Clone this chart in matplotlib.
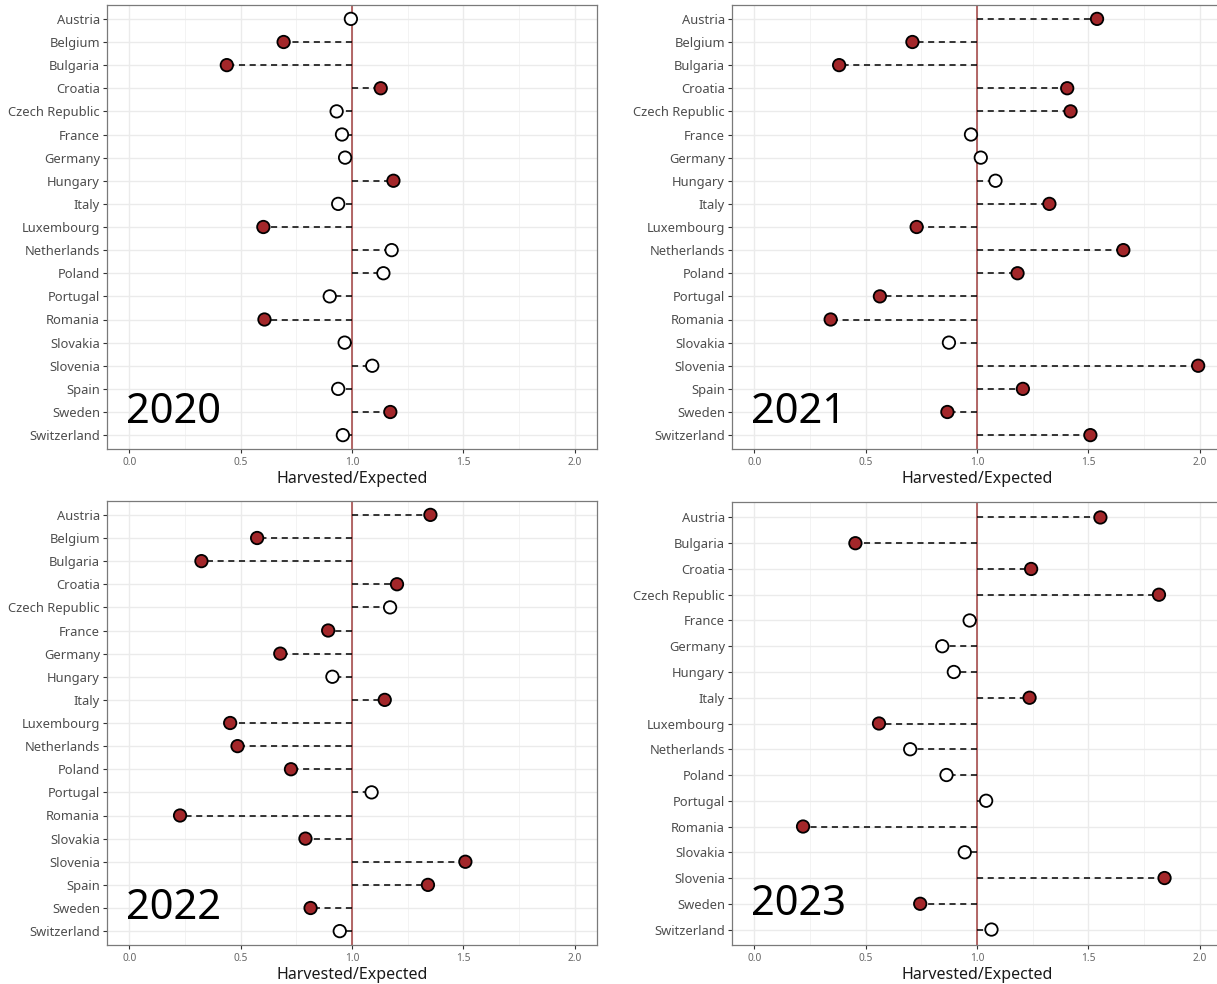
import numpy as np
import matplotlib.pyplot as plt

plt.rcParams['font.family'] = ['Noto Sans', 'DejaVu Sans']

countries = ['Austria', 'Belgium', 'Bulgaria', 'Croatia', 'Czech Republic', 'France',
             'Germany', 'Hungary', 'Italy', 'Luxembourg', 'Netherlands', 'Poland',
             'Portugal', 'Romania', 'Slovakia', 'Slovenia', 'Spain', 'Sweden', 'Switzerland']
countries_2023 = [c for c in countries if c not in ('Belgium', 'Spain')]

# harvested / expected ratios
v2020 = [0.995, 0.693, 0.438, 1.129, 0.931, 0.955, 0.969, 1.186, 0.938, 0.602,
         1.178, 1.141, 0.900, 0.607, 0.967, 1.091, 0.938, 1.172, 0.959]
s2020 = [0, 1, 1, 1, 0, 0, 0, 1, 0, 1, 0, 0, 0, 1, 0, 0, 0, 1, 0]

v2021 = [1.539, 0.710, 0.381, 1.405, 1.420, 0.973, 1.017, 1.083, 1.325, 0.729,
         1.657, 1.182, 0.564, 0.343, 0.874, 1.993, 1.206, 0.867, 1.509]
s2021 = [1, 1, 1, 1, 1, 0, 0, 0, 1, 1, 1, 1, 1, 1, 0, 1, 1, 1, 1]

v2022 = [1.352, 0.574, 0.324, 1.202, 1.171, 0.893, 0.678, 0.912, 1.147, 0.453,
         0.486, 0.726, 1.088, 0.228, 0.791, 1.509, 1.341, 0.814, 0.945]
s2022 = [1, 1, 1, 1, 0, 1, 1, 0, 1, 1, 1, 1, 0, 1, 1, 1, 1, 1, 0]

v2023 = [1.554, 0.454, 1.243, 1.817, 0.967, 0.844, 0.896, 1.236, 0.560, 0.700,
         0.863, 1.041, 0.219, 0.945, 1.842, 0.745, 1.065]
s2023 = [1, 1, 1, 1, 0, 0, 0, 1, 1, 0, 0, 0, 1, 0, 1, 1, 0]

years = ['2020', '2021', '2022', '2023']
RED = '#A3272A'

W, H = 1217, 984
fig = plt.figure(figsize=(W / 100, H / 100), dpi=100)

# panel boxes in pixels: left, top, right, bottom
boxes = [(107, 5, 597, 449), (732, 5, 1222, 449),
         (107, 501, 597, 945), (732, 502, 1222, 945)]
panels = [(countries, v2020, s2020), (countries, v2021, s2021),
          (countries, v2022, s2022), (countries_2023, v2023, s2023)]

for (l, t, r, b), (names, vals, sig), yr in zip(boxes, panels, years):
    ax = fig.add_axes([l / W, 1 - b / H, (r - l) / W, (b - t) / H])
    n = len(names)
    y = np.arange(n)[::-1]
    ax.set_xlim(-0.1, 2.1)
    ax.set_ylim(-0.6, n - 0.4)
    ax.set_xticks([0, 0.5, 1.0, 1.5, 2.0])
    ax.set_xticks([0.25, 0.75, 1.25, 1.75], minor=True)
    ax.set_xticklabels(['0.0', '0.5', '1.0', '1.5', '2.0'])
    ax.set_yticks(y)
    ax.set_yticklabels(names)
    ax.grid(True, which='major', color='#EBEBEB', lw=1.0, zorder=0)
    ax.grid(True, which='minor', axis='x', color='#F3F3F3', lw=0.7, zorder=0)
    ax.set_axisbelow(True)
    for sp in ax.spines.values():
        sp.set_color('#7A7A7A')
        sp.set_linewidth(0.9)
    ax.tick_params(axis='y', labelsize=9.3, labelcolor='#4D4D4D', color='#333333',
                   length=3, width=0.8, pad=2)
    ax.tick_params(axis='x', labelsize=7.3, labelcolor='#666666', color='#333333',
                   length=3, width=0.8, pad=3)
    ax.tick_params(which='minor', length=0)
    ax.axvline(1.0, color='#A0403F', lw=1.1, zorder=2)
    ax.hlines(y, 1.0, vals, colors='black', linestyles=(0, (4, 3)), lw=1.1, zorder=3)
    fc = [RED if s else 'white' for s in sig]
    ax.scatter(vals, y, s=80, c=fc, edgecolors='black', linewidths=1.3, zorder=4)
    ax.text(0.2, y[names.index('Sweden')], yr, fontsize=30, ha='center',
            va='center', color='black')
    ax.set_xlabel('Harvested/Expected', fontsize=11.5, color='#1A1A1A', labelpad=2)

fig.savefig('out.png', dpi=100)
